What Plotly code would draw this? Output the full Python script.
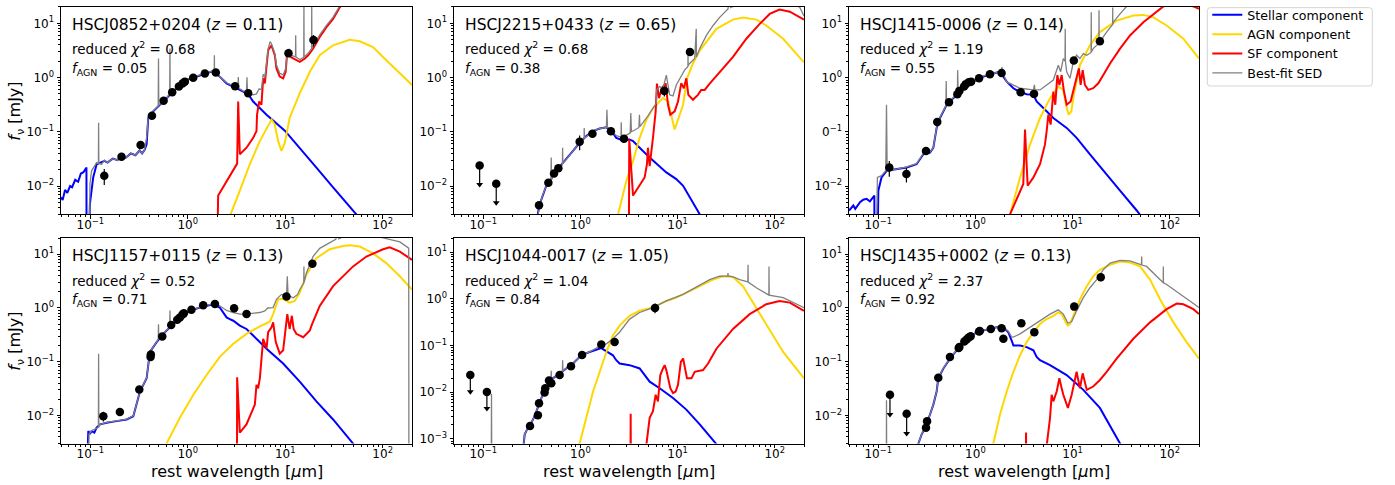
import math
import plotly.graph_objects as go

# ------------------------------------------------------------------
# SED decompositions: rest wavelength [micron], f_nu [mJy]
# ------------------------------------------------------------------

# --- HSCJ0852+0204 ---
J0852_STELLAR = [(0.05, 0.0062), (0.052, 0.0055), (0.055, 0.0085), (0.058, 0.0075), (0.062, 0.010),
                 (0.065, 0.0095), (0.070, 0.013), (0.075, 0.012), (0.080, 0.017), (0.085, 0.018),
                 (0.0902, 0.0213), (0.0912, 0.0213), (0.0915, 0.0005), (0.096, 0.0005), (0.099, 0.0047),
                 (0.107, 0.0144), (0.116, 0.0252), (0.126, 0.0271), (0.14, 0.029), (0.15, 0.027),
                 (0.17, 0.032), (0.19, 0.030), (0.21, 0.036), (0.23, 0.033), (0.26, 0.040), (0.29, 0.037),
                 (0.32, 0.045), (0.34, 0.040), (0.36, 0.046), (0.378, 0.0585), (0.393, 0.18), (0.442, 0.238),
                 (0.518, 0.315), (0.606, 0.417), (0.709, 0.552), (0.830, 0.731), (0.971, 0.902), (1.33, 1.11),
                 (1.82, 1.32), (2.13, 1.04), (2.50, 0.783), (2.93, 0.681), (3.42, 0.592), (4.17, 0.493),
                 (4.69, 0.362), (6.43, 0.207), (9.91, 0.105), (14.1, 0.0509), (20.9, 0.0219), (31.0, 0.00946),
                 (53.7, 0.0030), (80, 0.0013)]
J0852_AGN = [(2.3, 0.0006), (2.75, 0.003), (3.42, 0.0082), (4.33, 0.0252), (5.49, 0.0673), (6.43, 0.118),
             (7.23, 0.168), (7.82, 0.136), (8.46, 0.0673), (9.15, 0.0443), (9.9, 0.0628), (11.1, 0.18),
             (14.1, 0.514), (17.9, 1.28), (22.6, 2.58), (31.0, 3.93), (45.9, 4.99), (58.2, 4.66),
             (79.6, 3.66), (109, 2.09), (150, 1.19), (200, 0.731)]
J0852_SF = [(2.0, 0.0005), (2.05, 0.0025), (2.05, 0.00667), (3.21, 0.0259), (3.29, 0.362), (3.42, 0.0385),
            (4.01, 0.0509), (4.69, 0.0774), (5.07, 0.103), (5.14, 0.207), (5.40, 0.362), (5.70, 0.315),
            (5.94, 0.968), (6.18, 0.783), (6.43, 1.82), (6.68, 3.18), (7.23, 3.93), (7.52, 3.18),
            (7.82, 2.58), (8.13, 1.47), (8.79, 1.04), (9.52, 0.968), (10.1, 1.28), (10.5, 2.97),
            (11.0, 3.18), (11.3, 2.40), (12.1, 2.24), (14.1, 1.95), (15.9, 2.24), (17.2, 2.58),
            (19.3, 3.42), (22.6, 5.58), (26.5, 8.5), (31.0, 12.1), (36.3, 19.7), (45, 30)]
J0852_SED = [(0.0976, 0.0005), (0.0991, 0.0109), (0.103, 0.0191), (0.116, 0.0271), (0.1210, 0.0259),
             (0.1216, 0.146), (0.1222, 0.0262), (0.13, 0.025), (0.14, 0.030), (0.15, 0.027), (0.17, 0.032),
             (0.19, 0.030), (0.21, 0.036), (0.23, 0.033), (0.26, 0.040), (0.29, 0.037), (0.32, 0.045),
             (0.34, 0.040), (0.36, 0.046), (0.378, 0.0774), (0.393, 0.193), (0.442, 0.245), (0.497, 0.30),
             (0.5007, 2.24), (0.504, 0.31), (0.606, 0.415), (0.652, 0.52), (0.6563, 3.42), (0.660, 0.53),
             (0.709, 0.56), (0.830, 0.74), (0.971, 0.91), (1.33, 1.12), (1.82, 1.33), (1.87, 1.30),
             (1.875, 2.58), (1.88, 1.28), (2.13, 1.05), (2.50, 0.80), (2.93, 0.70), (3.27, 0.65),
             (3.30, 1.02), (3.33, 0.64), (4.00, 0.52), (4.05, 1.01), (4.10, 0.51), (4.69, 0.48),
             (5.07, 0.50), (5.40, 0.62), (5.70, 0.60), (5.94, 1.15), (6.18, 1.0), (6.43, 2.0), (6.68, 3.4),
             (7.0, 4.6), (7.23, 4.2), (7.52, 3.4), (7.82, 2.8), (8.13, 1.7), (8.79, 1.2), (9.52, 1.12),
             (10.1, 1.45), (10.5, 3.1), (11.0, 3.35), (11.3, 2.6), (12.1, 2.45), (12.75, 2.4),
             (12.81, 6.0), (12.87, 2.4), (14.1, 2.15), (15.5, 2.35), (15.56, 25), (15.62, 2.4),
             (17.2, 2.8), (18.65, 3.4), (18.71, 25), (18.77, 3.45), (22.6, 6.1), (26.5, 9.2), (31.0, 13),
             (36.3, 21), (45, 32)]
J0852_PHOT = [(0.139, 0.0155, 0.005), (0.209, 0.0348, 0.004), (0.328, 0.0569, 0.003), (0.429, 0.198, 0.01),
              (0.565, 0.372, 0.01), (0.692, 0.537, 0.01), (0.811, 0.681, 0.01), (0.883, 0.773, 0.01),
              (0.933, 0.841, 0.01), (1.137, 0.995, 0.02), (1.497, 1.19, 0.03), (1.94, 1.245, 0.03),
              (3.06, 0.69, 0.03), (4.17, 0.514, 0.03), (10.8, 2.81, 0.2), (19.5, 4.92, 1.2)]
J0852_ULIM = []

# --- HSCJ2215+0433 ---
J2215_STELLAR = [(0.35, 0.002), (0.361, 0.003), (0.375, 0.0041), (0.39, 0.0052), (0.412, 0.0071),
                 (0.44, 0.0095), (0.468, 0.0109), (0.50, 0.0135), (0.535, 0.0166), (0.611, 0.0225),
                 (0.716, 0.0311), (0.839, 0.0443), (0.982, 0.0628), (1.15, 0.0832), (1.35, 0.1026),
                 (1.58, 0.115), (1.85, 0.121), (2.08, 0.105), (2.34, 0.0774), (2.74, 0.0693), (3.21, 0.0723),
                 (3.48, 0.0673), (4.07, 0.0509), (5.16, 0.0334), (7.66, 0.0178), (9.70, 0.0134),
                 (11.4, 0.0101), (13.3, 0.0062), (16.9, 0.003), (20, 0.0018)]
J2215_AGN = [(2.2, 0.0012), (2.44, 0.003), (2.97, 0.0125), (3.48, 0.029), (4.07, 0.0774), (4.77, 0.165),
             (5.58, 0.274), (7.08, 0.417), (7.97, 0.362), (9.33, 0.110), (11.4, 0.315), (12.5, 0.968),
             (14.4, 1.82), (16.9, 3.14), (25.1, 7.92), (37.2, 11.7), (47.1, 12.8), (64.6, 11.7),
             (81.8, 9.12), (122, 5.2), (200, 1.90)]
J2215_SF = [(3.15, 0.0015), (3.16, 0.002), (3.18, 0.0723), (3.48, 0.00667), (4.58, 0.0144), (4.84, 0.0252),
            (4.95, 0.0509), (5.16, 0.0232), (5.58, 0.0774), (5.95, 0.238), (6.13, 0.773), (6.44, 0.417),
            (6.86, 0.633), (7.54, 0.783), (7.97, 0.315), (8.42, 0.207), (9.33, 0.238), (10.1, 0.362),
            (10.9, 0.783), (11.6, 0.633), (12.3, 0.968), (12.9, 0.48), (14.4, 0.389), (16.2, 0.48),
            (17.5, 0.592), (19.0, 0.592), (21.4, 0.773), (27.1, 1.28), (37.2, 2.40), (51.0, 5.2),
            (70, 9.77), (88.7, 14.9), (112, 17.9), (143, 16.4), (200, 11.7)]
J2215_SED = [(0.35, 0.002), (0.375, 0.0041), (0.39, 0.0052), (0.412, 0.0071), (0.44, 0.0095), (0.468, 0.0109),
             (0.497, 0.0125), (0.5007, 0.0334), (0.504, 0.013), (0.535, 0.0166), (0.611, 0.0225),
             (0.652, 0.025), (0.6563, 0.0509), (0.660, 0.026), (0.716, 0.0311), (0.839, 0.0443),
             (0.98, 0.063), (1.09, 0.075), (1.094, 0.118), (1.10, 0.076), (1.35, 0.103), (1.58, 0.115),
             (1.85, 0.12), (1.875, 0.255), (1.90, 0.118), (2.08, 0.106), (2.34, 0.085), (2.62, 0.08),
             (2.63, 0.15), (2.65, 0.08), (2.9, 0.085), (3.25, 0.095), (3.3, 0.222), (3.35, 0.1), (3.7, 0.11),
             (4.0, 0.12), (4.05, 0.206), (4.1, 0.125), (5.0, 0.2), (6.04, 0.338), (6.1, 0.6), (6.53, 0.681),
             (7.08, 0.633), (7.66, 1.11), (8.29, 0.48), (8.97, 0.46), (9.70, 0.73), (10.9, 1.04),
             (11.8, 1.37), (12.78, 1.6), (12.81, 3.5), (12.84, 1.65), (13.3, 1.82), (15.0, 2.24),
             (15.56, 7.9), (15.62, 2.4), (16.9, 3.42), (19.8, 5.98), (23.2, 9.12), (27.1, 12.9),
             (33.0, 18.4), (34.8, 40), (35.2, 19.5), (37.2, 20.4), (50, 24), (100, 26), (180, 20), (200, 13.6)]
J2215_PHOT = [(0.375, 0.00444, 0.0005), (0.468, 0.0115, 0.001), (0.535, 0.0171, 0.001), (0.593, 0.0213, 0.001),
              (0.982, 0.0655, 0.02), (1.33, 0.0917, 0.005), (2.06, 0.1026, 0.005), (2.81, 0.0743, 0.005),
              (7.31, 0.568, 0.12), (13.4, 2.97, 0.4)]
J2215_ULIM = [(0.0918, 0.0239, 0.0132), (0.136, 0.0110, 0.0061)]

# --- HSCJ1415-0006 ---
J1415_STELLAR = [(0.05, 0.00354), (0.0554, 0.00438), (0.058, 0.0038), (0.0649, 0.00503), (0.070, 0.0056),
                 (0.076, 0.00579), (0.082, 0.0052), (0.0889, 0.0062), (0.0912, 0.00667), (0.0915, 0.0005),
                 (0.098, 0.0005), (0.1002, 0.0082), (0.108, 0.0144), (0.122, 0.0191), (0.155, 0.0205),
                 (0.196, 0.0219), (0.248, 0.0252), (0.291, 0.0385), (0.341, 0.0412), (0.369, 0.0509),
                 (0.399, 0.118), (0.432, 0.180), (0.506, 0.315), (0.593, 0.417), (0.693, 0.552),
                 (0.812, 0.731), (0.953, 0.841), (1.21, 1.04), (1.53, 1.19), (1.79, 1.28), (2.10, 0.841),
                 (2.46, 0.635), (2.88, 0.537), (3.37, 0.493), (3.95, 0.48), (4.27, 0.362), (5.0, 0.274),
                 (6.34, 0.180), (8.69, 0.118), (11.0, 0.0774), (15.1, 0.0385), (20.7, 0.0191),
                 (30.8, 0.0082), (45.7, 0.00354), (49.4, 0.003), (70, 0.0013)]
J1415_AGN = [(2.0, 0.0012), (2.27, 0.003), (2.88, 0.0144), (3.65, 0.0585), (4.62, 0.180), (5.86, 0.417),
             (7.13, 0.681), (8.03, 0.592), (8.55, 0.315), (9.12, 0.207), (9.7, 0.238), (10.3, 0.48),
             (11.9, 1.69), (15.1, 3.93), (19.1, 6.89), (28.4, 11.2), (42.2, 13.9), (53.5, 14.3),
             (67.8, 12.9), (92.9, 9.12), (138, 5.2), (200, 2.24)]
J1415_SF = [(2.2, 0.0015), (2.27, 0.003), (3.11, 0.0109), (3.24, 0.110), (3.45, 0.0101), (3.95, 0.0144),
            (4.62, 0.0252), (5.2, 0.0585), (5.41, 0.1026), (5.63, 0.207), (5.95, 0.136), (6.34, 0.552),
            (6.64, 0.315), (6.97, 1.11), (7.31, 0.731), (7.72, 1.11), (8.16, 0.552), (8.69, 0.315),
            (9.55, 0.362), (10.3, 0.635), (11.0, 0.968), (11.6, 1.47), (12.1, 0.731), (12.7, 1.37),
            (13.4, 0.731), (14.5, 0.592), (16.3, 0.635), (18.4, 0.783), (20.7, 1.11), (24.3, 1.82),
            (30.8, 3.42), (39.0, 5.98), (53.5, 10.5), (73.3, 16.0), (85.9, 20.5), (110, 23), (140, 23.5),
            (182, 20), (200, 18.5)]
J1415_SED = [(0.0948, 0.0005), (0.098, 0.0144), (0.108, 0.0155), (0.1195, 0.0191), (0.1216, 0.315),
             (0.1235, 0.0191), (0.155, 0.0205), (0.196, 0.0225), (0.248, 0.0259), (0.291, 0.040),
             (0.341, 0.042), (0.369, 0.052), (0.399, 0.121), (0.432, 0.183), (0.497, 0.30), (0.5007, 0.865),
             (0.505, 0.30), (0.593, 0.43), (0.652, 0.47), (0.6563, 1.37), (0.665, 0.48), (0.693, 0.54),
             (0.812, 0.75), (0.953, 0.85), (1.21, 1.07), (1.53, 1.2), (1.85, 1.28), (1.875, 1.56),
             (1.90, 1.25), (2.10, 0.83), (2.88, 0.635), (3.95, 0.592), (4.05, 0.731), (4.1, 0.592),
             (4.62, 0.592), (5.41, 0.731), (6.34, 0.902), (7.13, 1.69), (7.54, 1.28), (8.03, 2.24),
             (8.36, 2.0), (8.40, 7.92), (8.44, 2.0), (8.69, 1.28), (9.4, 0.968), (10.2, 1.95), (11.0, 2.58),
             (11.9, 2.24), (12.9, 2.77), (14.0, 2.58), (15.5, 2.9), (15.56, 16.0), (15.62, 3.0),
             (16.3, 3.42), (18.65, 4.3), (18.71, 17.5), (18.77, 4.4), (22.4, 6.89), (25.85, 9.5),
             (25.89, 19.5), (25.93, 9.6), (26.3, 10.5), (30.8, 14.9), (36.1, 20.6), (50, 28), (100, 35),
             (200, 25)]
J1415_PHOT = [(0.130, 0.0219, 0.007), (0.195, 0.0166, 0.005), (0.310, 0.0443, 0.003), (0.405, 0.152, 0.01),
              (0.535, 0.352, 0.01), (0.652, 0.493, 0.01), (0.684, 0.568, 0.01), (0.764, 0.681, 0.01),
              (0.794, 0.751, 0.01), (0.853, 0.817, 0.01), (0.902, 0.841, 0.01), (1.09, 0.968, 0.02),
              (1.41, 1.15, 0.02), (1.86, 1.21, 0.03), (2.92, 0.537, 0.02), (4.01, 0.50, 0.03),
              (10.3, 2.06, 0.15), (19.1, 4.66, 0.5)]
J1415_ULIM = []

# --- HSCJ1157+0115 ---
J1157_STELLAR = [(0.0916, 0.0005), (0.0953, 0.00513), (0.099, 0.0045), (0.103, 0.00513), (0.11, 0.0048),
                 (0.116, 0.00592), (0.126, 0.00681), (0.147, 0.0073), (0.186, 0.00783), (0.236, 0.00841),
                 (0.276, 0.00968), (0.323, 0.0279), (0.378, 0.0491), (0.393, 0.0993), (0.409, 0.152),
                 (0.479, 0.232), (0.560, 0.330), (0.656, 0.437), (0.767, 0.579), (0.897, 0.716),
                 (1.05, 0.885), (1.33, 1.02), (1.82, 1.17), (2.13, 1.02), (2.50, 0.667), (2.70, 0.622),
                 (2.93, 0.579), (3.42, 0.469), (4.0, 0.407), (4.69, 0.307), (6.43, 0.175), (9.52, 0.0925),
                 (14.1, 0.0426), (20.9, 0.0183), (31.0, 0.00841), (49.7, 0.003), (70, 0.0013)]
J1157_AGN = [(0.55, 0.0015), (0.605, 0.003), (0.830, 0.00902), (1.14, 0.0242), (1.56, 0.0565), (2.13, 0.123),
             (2.93, 0.216), (4.0, 0.330), (5.49, 0.456), (6.95, 0.556), (7.52, 0.769), (8.46, 1.45),
             (9.52, 1.49), (11.0, 1.26), (12.5, 1.35), (14.1, 1.92), (16.5, 4.18), (20.9, 8.45),
             (28.6, 12.4), (39.2, 14.3), (45.9, 14.7), (58.2, 13.9), (79.6, 10.4), (109, 6.84),
             (150, 3.89), (200, 2.21)]
J1157_SF = [(3.2, 0.0015), (3.21, 0.0512), (3.42, 0.00479), (4.0, 0.00681), (4.88, 0.0159), (5.07, 0.037),
            (5.27, 0.0321), (5.49, 0.0491), (5.94, 0.267), (6.43, 0.175), (6.68, 0.354), (7.23, 0.437),
            (7.52, 0.54), (8.0, 0.232), (8.79, 0.141), (9.52, 0.163), (10.5, 0.769), (11.1, 0.407),
            (11.7, 0.716), (12.2, 0.407), (13.0, 0.330), (15.3, 0.286), (17.9, 0.38), (18.6, 0.469),
            (22.6, 1.09), (31.0, 2.55), (49.7, 5.94), (68.1, 9.08), (101, 12.4), (118, 13.5), (150, 11.2),
            (200, 7.88)]
J1157_SED = [(0.0953, 0.0005), (0.097, 0.0045), (0.103, 0.0052), (0.116, 0.0058), (0.1210, 0.006),
             (0.1216, 0.141), (0.1222, 0.006), (0.126, 0.0068), (0.147, 0.0074), (0.186, 0.0079),
             (0.236, 0.0085), (0.276, 0.0098), (0.323, 0.028), (0.378, 0.05), (0.393, 0.1), (0.409, 0.153),
             (0.479, 0.235), (0.497, 0.26), (0.5007, 0.5), (0.504, 0.27), (0.560, 0.335), (0.652, 0.44),
             (0.6563, 0.9), (0.660, 0.45), (0.767, 0.585), (0.897, 0.72), (1.05, 0.89), (1.33, 1.03),
             (1.82, 1.2), (2.13, 1.1), (2.50, 0.9), (2.93, 0.824), (3.42, 0.769), (4.0, 0.769),
             (4.69, 0.79), (5.49, 0.824), (6.18, 0.885), (6.6, 1.0), (7.52, 1.02), (8.13, 1.45),
             (9.15, 1.79), (10.3, 1.64), (10.5, 3.89), (10.7, 1.7), (12.1, 1.55), (13.4, 1.79),
             (14.1, 2.21), (15.5, 2.9), (15.56, 5.94), (15.62, 3.0), (16.5, 4.48), (19.3, 9.08),
             (22.6, 12.9), (28.6, 16.4), (33.0, 18.9), (34.8, 30), (35.5, 19.5), (42.5, 22.6), (62, 25),
             (150, 17), (185, 13), (186, 0.0005)]
J1157_PHOT = [(0.136, 0.00968, 0.002), (0.201, 0.0116, 0.0015), (0.318, 0.0303, 0.002), (0.415, 0.123, 0.01),
              (0.418, 0.136, 0.01), (0.547, 0.294, 0.01), (0.676, 0.482, 0.01), (0.780, 0.604, 0.01),
              (0.830, 0.667, 0.01), (0.883, 0.757, 0.01), (0.912, 0.802, 0.01), (1.09, 0.923, 0.02),
              (1.44, 1.12, 0.02), (1.90, 1.19, 0.03), (2.99, 0.99, 0.03), (4.01, 0.769, 0.03),
              (10.3, 1.64, 0.1), (19.0, 6.65, 0.8)]
J1157_ULIM = []

# --- HSCJ1044-0017 ---
J1044_STELLAR = [(0.255, 0.0005), (0.261, 0.0008), (0.267, 0.00126), (0.289, 0.00175), (0.313, 0.00223),
                 (0.338, 0.00308), (0.365, 0.00501), (0.396, 0.00752), (0.428, 0.0104), (0.463, 0.0144),
                 (0.522, 0.0199), (0.611, 0.0254), (0.716, 0.0324), (0.839, 0.0413), (1.02, 0.0619),
                 (1.24, 0.0729), (1.64, 0.0885), (2.16, 0.0619), (2.34, 0.0486), (2.53, 0.0413),
                 (3.21, 0.0381), (4.07, 0.0324), (5.16, 0.0169), (6.54, 0.0122), (8.97, 0.00752),
                 (12.3, 0.00426), (16.9, 0.00205), (25.1, 0.0008), (30, 0.0005)]
J1044_AGN = [(0.9, 0.0004), (0.982, 0.0008), (1.15, 0.00284), (1.35, 0.0104), (1.58, 0.0275), (1.85, 0.0729),
             (2.16, 0.164), (2.53, 0.267), (3.21, 0.435), (4.07, 0.555), (5.58, 0.652), (7.66, 0.902),
             (9.70, 1.06), (12.3, 1.35), (16.9, 1.87), (23.2, 2.59), (29.3, 3.05), (37.2, 2.95),
             (47.1, 1.87), (59.7, 0.832), (81.8, 0.267), (122, 0.0729), (200, 0.0199)]
J1044_SF = [(3.28, 0.0005), (3.29, 0.00345), (3.30, 0.0005), (4.66, 0.0005), (5.16, 0.00284), (5.58, 0.00393),
            (5.95, 0.00885), (6.28, 0.0064), (6.64, 0.0234), (7.08, 0.0324), (7.36, 0.0381), (7.66, 0.0299),
            (7.97, 0.0199), (8.42, 0.0122), (8.97, 0.0096), (9.55, 0.0104), (10.1, 0.0144), (10.8, 0.0448),
            (11.4, 0.0527), (11.9, 0.0324), (12.5, 0.0199), (13.9, 0.0199), (15.0, 0.0275), (18.3, 0.0299),
            (20.6, 0.0413), (25.1, 0.0857), (37.2, 0.227), (55.2, 0.471), (81.8, 0.767), (112, 0.902),
            (143, 0.832), (200, 0.555)]
J1044_SED = [(0.1210, 0.0005), (0.1216, 0.0093), (0.1222, 0.0005), (0.255, 0.0005), (0.261, 0.0008),
             (0.267, 0.00126), (0.289, 0.00175), (0.313, 0.00223), (0.338, 0.00308), (0.365, 0.00501),
             (0.396, 0.00752), (0.428, 0.0104), (0.463, 0.0144), (0.497, 0.017), (0.5007, 0.0289),
             (0.504, 0.0175), (0.522, 0.0199), (0.611, 0.0254), (0.652, 0.028), (0.6563, 0.0486),
             (0.660, 0.0285), (0.716, 0.0324), (0.839, 0.0413), (1.02, 0.0619), (1.24, 0.0735),
             (1.64, 0.101), (1.85, 0.109), (2.16, 0.140), (2.53, 0.193), (3.21, 0.369), (4.07, 0.511),
             (5.58, 0.652), (7.66, 0.902), (11.4, 1.25), (15.0, 1.73), (21.4, 2.59), (27.1, 3.05),
             (32.8, 3.1), (33.0, 3.58), (33.2, 3.1), (37.2, 2.95), (43.6, 2.59), (52.9, 2.3), (53.1, 5.37),
             (53.3, 2.28), (64.6, 1.73), (81.8, 1.25), (87.0, 1.2), (87.3, 4.95), (87.6, 1.2), (122, 1.06),
             (200, 0.65)]
J1044_PHOT = [(0.303, 0.00189, 0.0003), (0.365, 0.00324, 0.0003), (0.375, 0.0058, 0.0005),
              (0.428, 0.0099, 0.0008), (0.435, 0.0122, 0.001), (0.475, 0.0178, 0.001), (0.502, 0.0156, 0.001),
              (0.611, 0.0234, 0.001), (0.80, 0.0363, 0.002), (1.04, 0.063, 0.003), (1.64, 0.106, 0.005),
              (2.25, 0.119, 0.005), (5.86, 0.641, 0.15)]
J1044_ULIM = [(0.0736, 0.0234, 0.0131), (0.109, 0.0102, 0.0057)]

# --- HSCJ1435+0002 ---
J1435_STELLAR = [(0.25, 0.002), (0.259, 0.003), (0.280, 0.00446), (0.303, 0.00592), (0.341, 0.0104),
                 (0.369, 0.0159), (0.399, 0.0279), (0.415, 0.0491), (0.468, 0.075), (0.547, 0.114),
                 (0.641, 0.163), (0.752, 0.232), (0.880, 0.286), (1.03, 0.354), (1.31, 0.396), (1.65, 0.437),
                 (1.94, 0.437), (2.18, 0.354), (2.36, 0.248), (2.46, 0.201), (2.88, 0.201), (3.37, 0.187),
                 (3.95, 0.163), (4.27, 0.123), (4.62, 0.107), (5.86, 0.0863), (8.69, 0.0565), (12.9, 0.0299),
                 (19.1, 0.0138), (30.8, 0.003), (40, 0.0015)]
J1435_AGN = [(1.4, 0.0015), (1.53, 0.003), (1.79, 0.0104), (2.10, 0.0279), (2.46, 0.065), (2.88, 0.132),
             (3.37, 0.232), (3.95, 0.354), (4.62, 0.503), (5.41, 0.622), (6.34, 0.716), (7.13, 0.824),
             (7.72, 0.769), (8.36, 0.579), (8.9, 0.469), (9.4, 0.503), (10.2, 0.716), (11.9, 1.45),
             (14.0, 2.55), (16.3, 3.89), (19.1, 5.16), (24.3, 6.38), (30.8, 7.35), (39.0, 7.04),
             (49.4, 5.94), (62.7, 3.38), (79.4, 1.45), (109, 0.54), (149, 0.232), (200, 0.114)]
J1435_SF = [(3.31, 0.0015), (3.32, 0.00479), (3.33, 0.0015), (5.2, 0.0015), (5.63, 0.00513), (5.86, 0.00902),
            (6.09, 0.0242), (6.34, 0.0183), (6.86, 0.0279), (7.31, 0.0491), (7.72, 0.0321), (8.03, 0.0242),
            (8.95, 0.0138), (9.79, 0.0242), (11.0, 0.065), (11.9, 0.0321), (12.7, 0.0607), (14.0, 0.0299),
            (16.3, 0.0345), (19.1, 0.0457), (22.4, 0.065), (28.4, 0.114), (42.2, 0.267), (62.7, 0.54),
            (92.9, 0.949), (118, 1.21), (138, 1.17), (175, 0.949), (200, 0.769)]
J1435_SED = [(0.1210, 0.0005), (0.1216, 0.0191), (0.1222, 0.0005), (0.25, 0.002), (0.259, 0.003),
             (0.280, 0.0045), (0.303, 0.006), (0.341, 0.0105), (0.369, 0.016), (0.399, 0.028), (0.415, 0.05),
             (0.468, 0.076), (0.547, 0.115), (0.641, 0.165), (0.752, 0.234), (0.880, 0.29), (1.03, 0.357),
             (1.31, 0.40), (1.65, 0.44), (1.94, 0.44), (2.18, 0.37), (2.36, 0.29), (2.46, 0.286),
             (2.88, 0.33), (3.65, 0.437), (4.62, 0.579), (5.86, 0.769), (7.13, 0.923), (8.03, 0.769),
             (8.95, 0.52), (9.79, 0.56), (11.0, 0.885), (12.9, 1.56), (15.1, 2.38), (17.7, 3.38),
             (20.7, 5.16), (24.3, 6.84), (30.8, 7.66), (39.0, 7.5), (51.2, 6.38), (51.4, 9.08), (51.6, 6.3),
             (57.8, 5.94), (73.3, 3.89), (85.7, 2.95), (85.9, 5.94), (86.1, 2.94), (92.9, 2.74), (128, 1.79),
             (200, 1.02)]
J1435_PHOT = [(0.310, 0.00592, 0.0006), (0.318, 0.00783, 0.0006), (0.415, 0.0505, 0.003), (0.547, 0.123, 0.005),
              (0.673, 0.180, 0.005), (0.684, 0.187, 0.005), (0.769, 0.238, 0.005), (0.812, 0.259, 0.005),
              (0.853, 0.282, 0.005), (0.893, 0.299, 0.005), (1.09, 0.364, 0.01), (1.11, 0.374, 0.01),
              (1.44, 0.407, 0.01), (1.86, 0.419, 0.01), (1.94, 0.267, 0.01), (2.97, 0.518, 0.015),
              (4.04, 0.354, 0.015), (10.4, 1.06, 0.05), (19.5, 3.73, 0.6)]
J1435_ULIM = [(0.132, 0.0242, 0.0138), (0.196, 0.0107, 0.0061)]

# --- labels ---
NAMES = ["HSCJ0852+0204", "HSCJ2215+0433", "HSCJ1415-0006",
         "HSCJ1157+0115", "HSCJ1044-0017", "HSCJ1435+0002"]
REDSHIFTS = ["0.11", "0.65", "0.14", "0.13", "1.05", "0.13"]
CHI2 = ["0.68", "0.68", "1.19", "0.52", "1.04", "2.37"]
F_AGN = ["0.05", "0.38", "0.55", "0.71", "0.84", "0.92"]
COMPONENT_NAMES = ["Stellar component", "AGN component", "SF component", "Best-fit SED"]

X_TICKS = [0.1, 1, 10, 100]
X_TICKTEXT = ["10<sup>\u22121</sup>", "10<sup>0</sup>", "10<sup>1</sup>", "10<sup>2</sup>"]
Y_TICKS = [10, 1, 0.1, 0.01, 0.001]
Y_TICKTEXT = ["10<sup>1</sup>", "10<sup>0</sup>", "10<sup>\u22121</sup>", "10<sup>\u22122</sup>", "10<sup>\u22123</sup>"]

PANELS = [
    (J0852_STELLAR, J0852_AGN, J0852_SF, J0852_SED, J0852_PHOT, J0852_ULIM),
    (J2215_STELLAR, J2215_AGN, J2215_SF, J2215_SED, J2215_PHOT, J2215_ULIM),
    (J1415_STELLAR, J1415_AGN, J1415_SF, J1415_SED, J1415_PHOT, J1415_ULIM),
    (J1157_STELLAR, J1157_AGN, J1157_SF, J1157_SED, J1157_PHOT, J1157_ULIM),
    (J1044_STELLAR, J1044_AGN, J1044_SF, J1044_SED, J1044_PHOT, J1044_ULIM),
    (J1435_STELLAR, J1435_AGN, J1435_SF, J1435_SED, J1435_PHOT, J1435_ULIM),
]

# ------------------------------------------------------------------
# layout geometry (pixels)
# ------------------------------------------------------------------
W, H = 1395, 485
COL_PX = [(61, 412), (454, 804), (849, 1199)]
ROW_PX = [(1, 211), (235, 443)]
Y_RANGES = [(0.003, 20), (0.003, 20), (0.003, 20), (0.003, 20), (0.0008, 20), (0.003, 20)]
X_RANGE = (0.05, 200)
LEGEND_BOX = (1207.3, 1.7, 1372.3, 81.0)   # left, top, right, bottom

LINE_STYLE = [dict(color="#0000ff", width=2.0), dict(color="#ffd700", width=2.0),
              dict(color="#ff0000", width=2.0), dict(color="#808080", width=1.3)]
FONT = "DejaVu Sans"
MINOR_VALS = [k * 10.0 ** n for n in range(-4, 3) for k in range(2, 10)]

fig = go.Figure()
annotations = []

for i, (stellar, agn, sf, sed, phot, ulim) in enumerate(PANELS):
    row, col = divmod(i, 3)
    sfx = "" if i == 0 else str(i + 1)
    xa, ya = "x" + sfx, "y" + sfx

    for comp, name, style in zip((stellar, agn, sf, sed), COMPONENT_NAMES, LINE_STYLE):
        fig.add_trace(go.Scatter(
            x=[p[0] for p in comp], y=[p[1] for p in comp], mode="lines",
            line=style, name=name, legendgroup=name, showlegend=(i == 0),
            xaxis=xa, yaxis=ya, hoverinfo="skip"))

    if phot:
        fig.add_trace(go.Scatter(
            x=[p[0] for p in phot], y=[p[1] for p in phot], mode="markers",
            marker=dict(color="black", size=8.5),
            error_y=dict(type="data", array=[p[2] for p in phot], arrayminus=[p[2] for p in phot],
                         color="black", thickness=1.2, width=0),
            showlegend=False, xaxis=xa, yaxis=ya, hoverinfo="skip"))

    if ulim:
        sx, sy = [], []
        for wl, f, err in ulim:
            sx += [wl, wl, None]
            sy += [f, f - err, None]
        fig.add_trace(go.Scatter(x=sx, y=sy, mode="lines", line=dict(color="black", width=1.2),
                                 showlegend=False, xaxis=xa, yaxis=ya, hoverinfo="skip"))
        fig.add_trace(go.Scatter(
            x=[u[0] for u in ulim], y=[u[1] - u[2] for u in ulim], mode="markers",
            marker=dict(color="black", size=6, symbol="triangle-down"),
            showlegend=False, xaxis=xa, yaxis=ya, hoverinfo="skip"))
        fig.add_trace(go.Scatter(
            x=[u[0] for u in ulim], y=[u[1] for u in ulim], mode="markers",
            marker=dict(color="black", size=8.5),
            showlegend=False, xaxis=xa, yaxis=ya, hoverinfo="skip"))

    x0, x1 = COL_PX[col]
    top, bot = ROW_PX[row]
    ymin, ymax = Y_RANGES[i]
    yvals = [v for v in Y_TICKS if ymin <= v <= ymax]
    ytext = [t for v, t in zip(Y_TICKS, Y_TICKTEXT) if ymin <= v <= ymax]
    if i == 2:
        ytext = [t if v != 0.1 else "0<sup>\u22121</sup>" for v, t in zip(yvals, ytext)]

    common = dict(type="log", showline=True, linecolor="black", linewidth=1, mirror=True,
                  ticks="outside", ticklen=3.5, tickwidth=1, tickcolor="black", showgrid=False,
                  zeroline=False, tickfont=dict(size=12, family=FONT, color="black"),
                  minor=dict(ticks="outside", ticklen=2, tickwidth=0.8, tickcolor="black",
                             tickvals=MINOR_VALS, showgrid=False))
    fig.layout["xaxis" + sfx] = dict(
        common, domain=[x0 / W, x1 / W], anchor=ya,
        range=[math.log10(X_RANGE[0]), math.log10(X_RANGE[1])],
        tickvals=X_TICKS, ticktext=X_TICKTEXT, ticklabelstandoff=-4)
    fig.layout["yaxis" + sfx] = dict(
        common, domain=[1 - bot / H, 1 - top / H], anchor=xa,
        range=[math.log10(ymin), math.log10(ymax)],
        tickvals=yvals, ticktext=ytext)

    ph = bot - top
    txt = dict(xref=xa + " domain", yref=ya + " domain", xanchor="left", yanchor="middle",
               showarrow=False)
    annotations.append(dict(txt, x=9 / (x1 - x0), y=1 - 18 / ph,
                            text=f"{NAMES[i]} (<i>z</i> = {REDSHIFTS[i]})",
                            font=dict(family=FONT, size=15.5, color="black")))
    annotations.append(dict(txt, x=9 / (x1 - x0), y=1 - 42 / ph,
                            text=f"reduced <i>\u03c7</i><sup>2</sup> = {CHI2[i]}",
                            font=dict(family=FONT, size=13.5, color="black")))
    annotations.append(dict(txt, x=9 / (x1 - x0), y=1 - 63 / ph,
                            text=f"<i>f</i><sub>AGN</sub> = {F_AGN[i]}",
                            font=dict(family=FONT, size=13.5, color="black")))

    if col == 0:
        annotations.append(dict(xref="paper", yref="paper", x=16 / W, y=1 - ((top + bot) / 2 + 1) / H,
                                xanchor="center", yanchor="middle", textangle=-90, showarrow=False,
                                text="<i>f</i><sub>\u03bd</sub> [mJy]",
                                font=dict(family=FONT, size=16, color="black")))
    if row == 1:
        annotations.append(dict(xref="paper", yref="paper", x=(x0 + x1) / 2 / W, y=1 - 471 / H,
                                xanchor="center", yanchor="middle", showarrow=False,
                                text="rest wavelength [<i>\u03bc</i>m]",
                                font=dict(family=FONT, size=16, color="black")))

# legend frame with slightly rounded corners
lx0, ly0, lx1, ly1 = LEGEND_BOX
r = 3.0
def _p(px, py):
    return f"{px / W:.6f},{1 - py / H:.6f}"
frame_path = (f"M {_p(lx0 + r, ly0)} L {_p(lx1 - r, ly0)} Q {_p(lx1, ly0)} {_p(lx1, ly0 + r)} "
              f"L {_p(lx1, ly1 - r)} Q {_p(lx1, ly1)} {_p(lx1 - r, ly1)} "
              f"L {_p(lx0 + r, ly1)} Q {_p(lx0, ly1)} {_p(lx0, ly1 - r)} "
              f"L {_p(lx0, ly0 + r)} Q {_p(lx0, ly0)} {_p(lx0 + r, ly0)} Z")

fig.update_layout(
    width=W, height=H, template="none",
    margin=dict(l=0, r=0, t=0, b=0, pad=0),
    paper_bgcolor="white", plot_bgcolor="white",
    font=dict(family=FONT, size=12, color="black"),
    annotations=annotations,
    shapes=[dict(type="path", xref="paper", yref="paper", path=frame_path,
                 line=dict(color="#d4d4d4", width=1), fillcolor="white", layer="above")],
    legend=dict(x=lx0 / W, y=1 + 6 / H, xanchor="left", yanchor="top",
                bgcolor="rgba(0,0,0,0)", borderwidth=0,
                font=dict(family=FONT, size=12.6, color="black"), tracegroupgap=0),
)

fig.write_html("out.html")
